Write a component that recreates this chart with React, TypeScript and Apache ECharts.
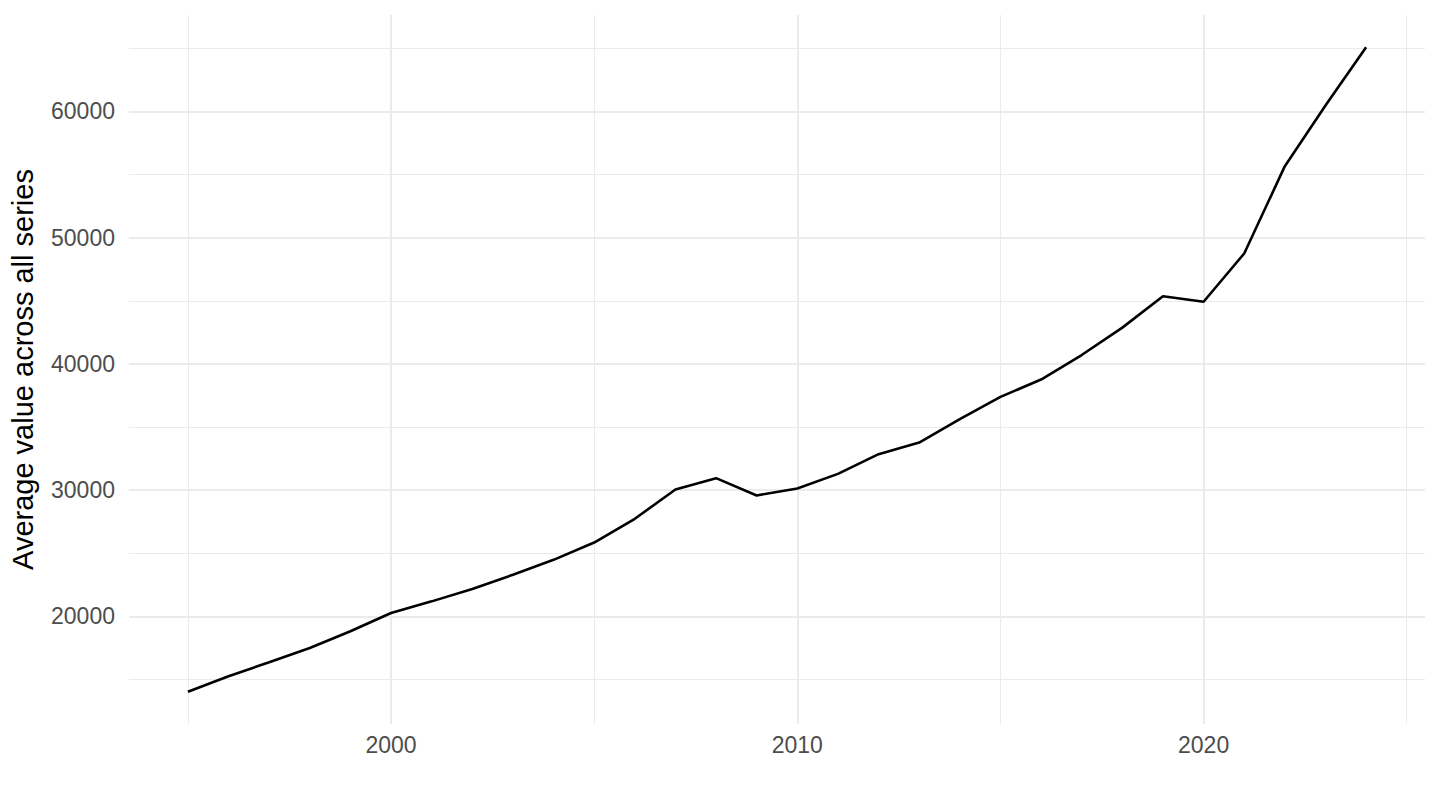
import React, { useEffect, useRef } from 'react';
import * as echarts from 'echarts';

const years = [
  1995, 1996, 1997, 1998, 1999, 2000, 2001, 2002, 2003, 2004,
  2005, 2006, 2007, 2008, 2009, 2010, 2011, 2012, 2013, 2014,
  2015, 2016, 2017, 2018, 2019, 2020, 2021, 2022, 2023, 2024,
];
const avgValues = [
  14030, 15260, 16370, 17500, 18820, 20270, 21190, 22170, 23300, 24480,
  25850, 27730, 30050, 30950, 29580, 30130, 31290, 32850, 33770, 35630,
  37390, 38760, 40700, 42870, 45350, 44920, 48740, 55660, 60470, 65080,
];
const xMajorTicks = [2000, 2010, 2020];
const xMinorTicks = [1995, 2005, 2015, 2025];
const yMajorTicks = [20000, 30000, 40000, 50000, 60000];
const yMinorTicks = [15000, 25000, 35000, 45000, 55000, 65000];
const yTitle = 'Average value across all series';

// ggplot-style 5% expansion on both scales
const expand = (lo: number, hi: number) => {
  const pad = (hi - lo) * 0.05;
  return [lo - pad, hi + pad];
};
const [xMin, xMax] = expand(Math.min(...years), Math.max(...years));
const [yMin, yMax] = expand(Math.min(...avgValues), Math.max(...avgValues));

const FONT = 'Liberation Sans, Arial, Helvetica, sans-serif';
const GRID = '#ebebeb';

const App: React.FC = () => {
  const chartRef = useRef<HTMLDivElement>(null);

  useEffect(() => {
    const chart = echarts.init(chartRef.current!, undefined, { renderer: 'svg' });

    const hiddenBits = {
      axisLine: { show: false },
      axisTick: { show: false },
    };

    chart.setOption({
      animation: false,
      backgroundColor: '#ffffff',
      grid: { left: 129, right: 15, top: 15, bottom: 86, outerBoundsMode: 'none' },
      xAxis: [
        {
          type: 'value',
          min: xMin,
          max: xMax,
          ...hiddenBits,
          axisTick: { show: false, customValues: xMajorTicks },
          axisLabel: {
            customValues: xMajorTicks,
            formatter: (v: number) => String(v),
            color: '#4d4d4d',
            fontSize: 23,
            fontFamily: FONT,
            margin: 9,
          },
          splitLine: { show: true, lineStyle: { color: GRID, width: 2 } },
        },
        {
          type: 'value',
          min: xMin,
          max: xMax,
          ...hiddenBits,
          axisTick: { show: false, customValues: xMinorTicks },
          axisLabel: { show: false },
          splitLine: { show: true, lineStyle: { color: GRID, width: 1 } },
        },
      ],
      yAxis: [
        {
          type: 'value',
          min: yMin,
          max: yMax,
          ...hiddenBits,
          axisTick: { show: false, customValues: yMajorTicks },
          axisLabel: {
            customValues: yMajorTicks,
            formatter: (v: number) => String(v),
            color: '#4d4d4d',
            fontSize: 23,
            fontFamily: FONT,
            margin: 14,
          },
          splitLine: { show: true, lineStyle: { color: GRID, width: 2 } },
          name: yTitle,
          nameLocation: 'middle',
          nameGap: 92,
          nameRotate: 90,
          nameTextStyle: { color: '#000000', fontSize: 29, fontFamily: FONT },
        },
        {
          type: 'value',
          min: yMin,
          max: yMax,
          ...hiddenBits,
          axisTick: { show: false, customValues: yMinorTicks },
          axisLabel: { show: false },
          splitLine: { show: true, lineStyle: { color: GRID, width: 1 } },
        },
      ],
      series: [
        {
          type: 'line',
          xAxisIndex: 0,
          yAxisIndex: 0,
          data: years.map((y, i) => [y, avgValues[i]]),
          showSymbol: false,
          lineStyle: { color: '#000000', width: 2.6 },
          z: 10,
        },
      ],
    });

    return () => {
      chart.dispose();
    };
  }, []);

  return (
    <div
      ref={chartRef}
      style={{ position: 'fixed', left: 0, top: 0, width: '1440px', height: '810px', background: '#fff' }}
    />
  );
};

export default App;
